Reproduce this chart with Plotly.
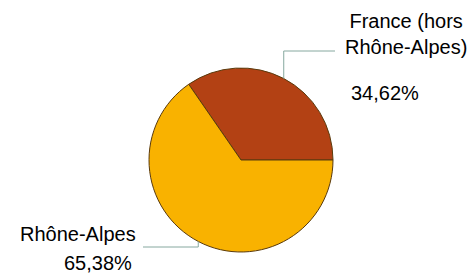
import math
import plotly.graph_objects as go

labels = ["France (hors Rhône-Alpes)", "Rhône-Alpes"]
values = [34.62, 65.38]
colors = ["#B34114", "#F9B200"]
pct_text = ["34,62%", "65,38%"]

W, H = 475, 274
CX, CY, R = 241, 160, 92

def px(x):
    return x / W

def py(y):
    return 1 - y / H

total = sum(values)
first_deg = values[0] / total * 360

fig = go.Figure(go.Pie(
    labels=labels, values=values, sort=False, direction="clockwise",
    rotation=90 - first_deg, textinfo="none", hoverinfo="label+percent",
    marker=dict(colors=colors, line=dict(color="#5a3a0c", width=1)),
    domain=dict(x=[px(CX - R), px(CX + R)], y=[py(CY + R), py(CY - R)]),
    showlegend=False,
))

# leader lines from slice mid-angles (math angle, counterclockwise from 3 o'clock)
start = 0.0
mids = []
for v in values:
    ang = start + v / total * 360 / 2
    mids.append(ang)
    start += v / total * 360

shapes = []
a = math.radians(mids[0])
x0, y0 = CX + R * math.cos(a), CY - R * math.sin(a)
shapes.append(dict(type="path", xref="paper", yref="paper",
                   path=f"M {px(x0)} {py(y0)} L {px(x0)} {py(51)} L {px(335)} {py(51)}",
                   line=dict(color="#86A89F", width=1)))
a = math.radians(mids[1])
x1, y1 = CX + R * math.cos(a), CY - R * math.sin(a)
shapes.append(dict(type="path", xref="paper", yref="paper",
                   path=f"M {px(x1)} {py(y1)} L {px(x1)} {py(247)} L {px(143)} {py(247)}",
                   line=dict(color="#86A89F", width=1)))

font = dict(family="Liberation Sans, Arial, sans-serif", size=20, color="#000000")
annotations = [
    dict(x=px(406), y=py(34), text="France (hors<br>Rhône-Alpes)", showarrow=False,
         xref="paper", yref="paper", xanchor="center", yanchor="middle", align="center", font=font),
    dict(x=px(349), y=py(93), text=pct_text[0], showarrow=False,
         xref="paper", yref="paper", xanchor="left", yanchor="middle", font=font),
    dict(x=px(78), y=py(234), text="Rhône-Alpes", showarrow=False,
         xref="paper", yref="paper", xanchor="center", yanchor="middle", font=font),
    dict(x=px(63), y=py(263), text=pct_text[1], showarrow=False, borderpad=0,
         xref="paper", yref="paper", xanchor="left", yanchor="middle", font=font),
]

fig.update_layout(width=W, height=H, margin=dict(l=0, r=0, t=0, b=0),
                  paper_bgcolor="white", plot_bgcolor="white",
                  shapes=shapes, annotations=annotations)
fig.write_html("out.html", config={"displayModeBar": False},
               post_script="document.body.style.margin='0';document.body.style.overflow='hidden';")
